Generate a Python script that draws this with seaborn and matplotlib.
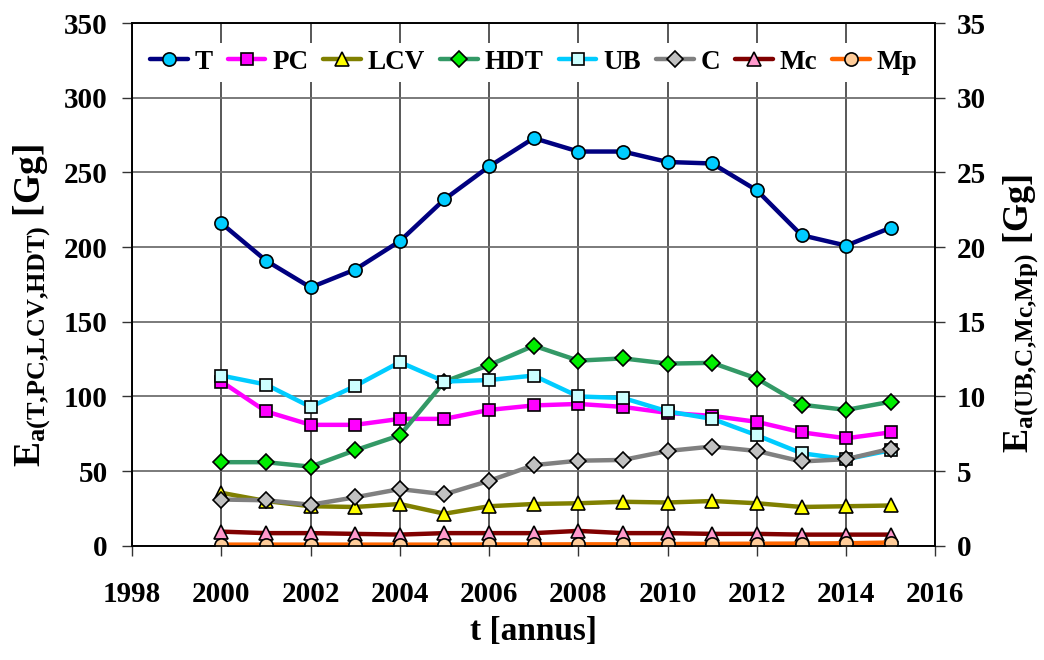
import matplotlib
matplotlib.use("Agg")
import matplotlib.pyplot as plt
import seaborn as sns
import pandas as pd

years = list(range(2000, 2016))

# left axis series [Gg]
T = [216, 191, 173, 185, 204, 232, 254, 273, 264, 264, 257, 256, 238, 208, 201, 213]
PC = [110, 90, 81, 81, 85, 85, 91, 94, 95, 93, 89, 87, 83, 76, 72, 76]
LCV = [35.5, 30, 26.5, 26, 28, 21.5, 26.5, 28, 28.5, 29.5, 29, 30, 28.5, 26, 26.5, 27]
HDT = [56, 56, 53, 64, 74, 110, 121, 134, 124, 125.5, 122, 122.5, 112, 94.5, 91, 96.5]

# right axis series [Gg]
UB = [11.4, 10.8, 9.3, 10.7, 12.3, 11.0, 11.1, 11.4, 10.0, 9.9, 9.0, 8.5, 7.4, 6.2, 5.8, 6.4]
C = [3.1, 3.05, 2.75, 3.25, 3.8, 3.45, 4.35, 5.4, 5.7, 5.75, 6.35, 6.65, 6.35, 5.65, 5.8, 6.5]
Mc = [0.95, 0.85, 0.85, 0.8, 0.75, 0.85, 0.85, 0.85, 1.0, 0.85, 0.85, 0.8, 0.8, 0.75, 0.75, 0.75]
Mp = [0.08, 0.08, 0.08, 0.08, 0.08, 0.08, 0.09, 0.09, 0.1, 0.1, 0.12, 0.13, 0.14, 0.15, 0.17, 0.22]

df = pd.DataFrame({"t": years, "T": T, "PC": PC, "LCV": LCV, "HDT": HDT,
                   "UB": UB, "C": C, "Mc": Mc, "Mp": Mp})

# name: (line colour, marker, marker face)
styles = {
    "T": ("#000080", "o", "#00CCFF"),
    "PC": ("#FF00FF", "s", "#FF00FF"),
    "LCV": ("#808000", "^", "#FFFF00"),
    "HDT": ("#339966", "D", "#00EE00"),
    "UB": ("#00CCFF", "s", "#CCFFFF"),
    "C": ("#808080", "D", "#C0C0C0"),
    "Mc": ("#800000", "^", "#FF99CC"),
    "Mp": ("#FF6600", "o", "#FFCC99"),
}
msizes = {"o": 9.5, "s": 9, "^": 10, "D": 8.5}

sns.set_style("ticks")
plt.rcParams["font.family"] = ["Liberation Serif", "DejaVu Serif"]
plt.rcParams["font.weight"] = "bold"
plt.rcParams["text.color"] = "black"
plt.rcParams["axes.labelcolor"] = "black"
plt.rcParams["xtick.color"] = "black"
plt.rcParams["ytick.color"] = "black"
plt.rcParams["mathtext.fontset"] = "custom"
plt.rcParams["mathtext.rm"] = "Liberation Serif:bold"
plt.rcParams["mathtext.it"] = "Liberation Serif:bold"
plt.rcParams["mathtext.bf"] = "Liberation Serif:bold"

fig, ax = plt.subplots(figsize=(10.44, 6.6), dpi=100)
fig.subplots_adjust(left=0.1265, right=0.896, top=0.965, bottom=0.173)
ax2 = ax.twinx()

handles = []
for name in ["T", "PC", "LCV", "HDT", "UB", "C", "Mc", "Mp"]:
    target = ax if name in ["T", "PC", "LCV", "HDT"] else ax2
    lc, mk, mf = styles[name]
    sns.lineplot(data=df, x="t", y=name, ax=target, color=lc, linewidth=3.2,
                 marker=mk, markersize=msizes[mk], markerfacecolor=mf,
                 markeredgecolor="black", markeredgewidth=1.2, label=name,
                 legend=False)
    handles.append(target.lines[-1])

ax.set_xlim(1998, 2016)
ax.set_xticks(range(1998, 2017, 2))
ax.set_ylim(0, 350)
ax.set_yticks(range(0, 351, 50))
ax2.set_ylim(0, 35)
ax2.set_yticks(range(0, 36, 5))

ax.grid(True, axis="x", color="#2a2a2a", linewidth=1.1)
ax.grid(True, axis="y", color="#707070", linewidth=1.3)
ax.set_axisbelow(True)

for a in (ax, ax2):
    a.tick_params(labelsize=21, length=7, width=1, color="#333333")
    for s in a.spines.values():
        s.set_color("black")
        s.set_linewidth(1.2)
ax.tick_params(axis="x", pad=18)
ax.tick_params(axis="y", pad=10.5)
ax2.tick_params(axis="y", pad=8.5)

ax.set_xlabel("t [annus]", fontsize=24, fontweight="bold", labelpad=6)
ax.set_ylabel(r"$\mathrm{E_{a(T{,}PC{,}LCV{,}HDT)}}$ [Gg]", fontsize=27, fontweight="bold")
ax2.set_ylabel(r"$\mathrm{E_{a(UB{,}C{,}Mc{,}Mp)}}$ [Gg]", fontsize=26, fontweight="bold")
ax.yaxis.set_label_coords(-0.1, 0.459)
ax2.yaxis.set_label_coords(1.083, 0.445)

leg = ax2.legend(handles=handles, labels=list(styles.keys()), loc="center",
                 bbox_to_anchor=(0.5, 0.925), ncol=8, frameon=True, fontsize=19.5,
                 handlelength=1.4, handletextpad=0.25, columnspacing=0.55,
                 borderpad=0.25, fancybox=False)
leg.get_frame().set_edgecolor("none")
leg.get_frame().set_facecolor("white")
leg.get_frame().set_alpha(1)

fig.savefig("out.png", dpi=100)
